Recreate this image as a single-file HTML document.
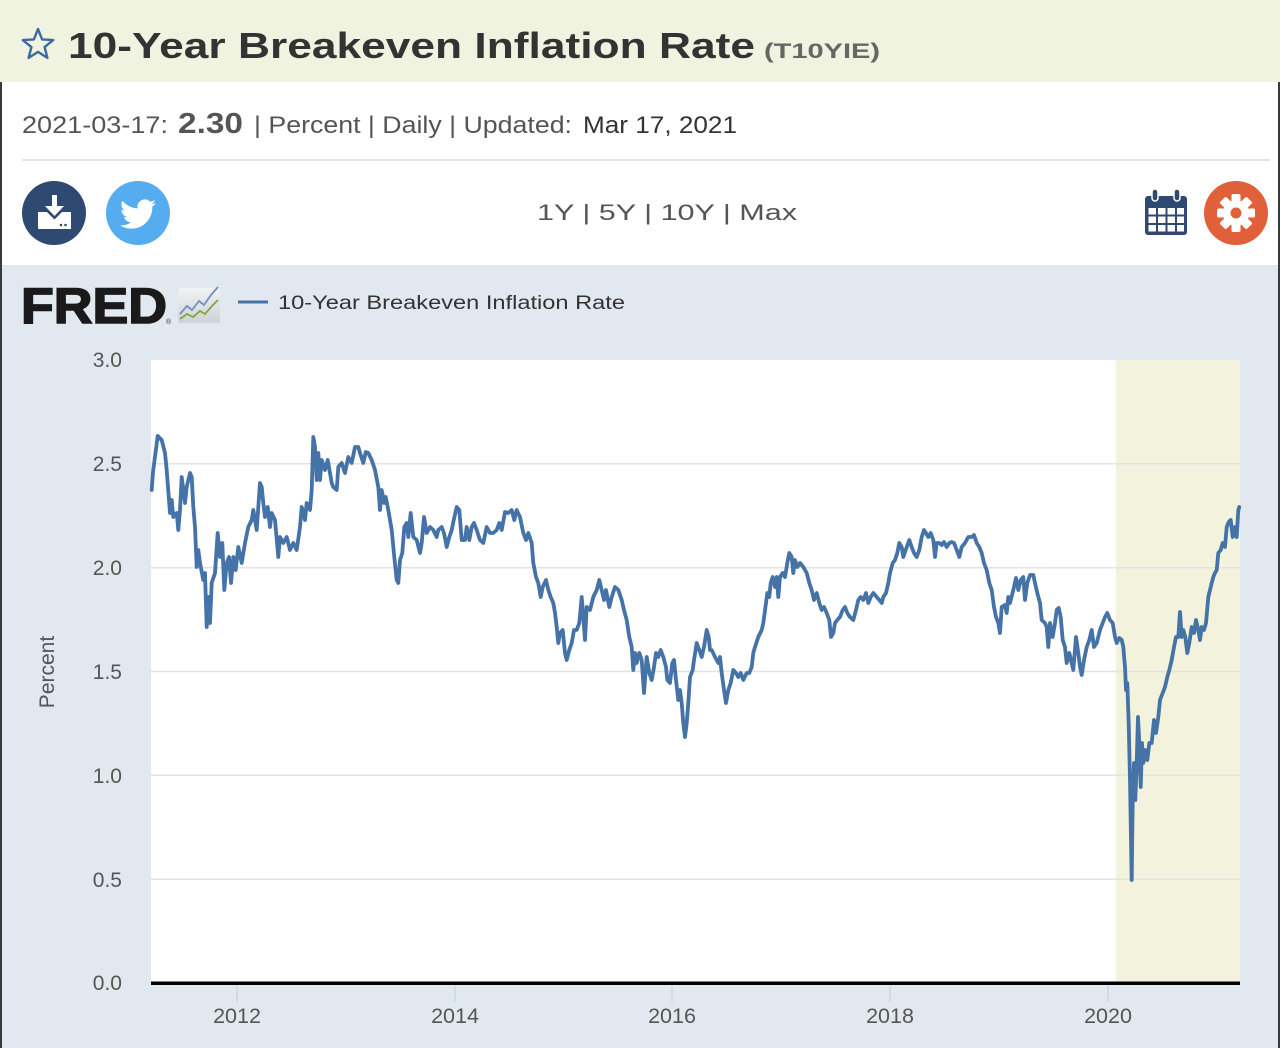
<!DOCTYPE html>
<html><head><meta charset="utf-8"><style>
html,body{margin:0;padding:0;background:#fff;}
svg{display:block;}
text{font-family:"Liberation Sans",sans-serif;}
</style></head><body>
<svg width="1280" height="1048" viewBox="0 0 1280 1048" xmlns="http://www.w3.org/2000/svg">
<!-- header band -->
<rect x="0" y="0" width="1280" height="82" fill="#f1f3e1"/>
<rect x="0" y="82" width="1280" height="183" fill="#ffffff"/>
<rect x="0" y="265" width="1280" height="783" fill="#e1e8f0"/>
<!-- borders -->
<rect x="0" y="82" width="2" height="966" fill="#3a3a3a"/>
<rect x="1278" y="82" width="2" height="966" fill="#3a3a3a"/>
<!-- star -->
<polygon points="38,29 42.1,39.4 53.2,40.1 44.6,47.1 47.4,57.9 38,51.9 28.6,57.9 31.4,47.1 22.8,40.1 33.9,39.4" fill="none" stroke="#3b6aa3" stroke-width="2.4" stroke-linejoin="round"/>
<text x="68" y="58" font-size="36" font-weight="bold" fill="#333" textLength="687" lengthAdjust="spacingAndGlyphs">10-Year Breakeven Inflation Rate</text>
<text x="764" y="58" font-size="21" font-weight="bold" fill="#666" textLength="116" lengthAdjust="spacingAndGlyphs">(T10YIE)</text>
<!-- value line -->
<text x="22" y="133" font-size="24" fill="#555" textLength="146" lengthAdjust="spacingAndGlyphs">2021-03-17:</text>
<text x="178" y="133" font-size="29" font-weight="bold" fill="#555" textLength="65" lengthAdjust="spacingAndGlyphs">2.30</text>
<text x="254" y="133" font-size="24" fill="#555" textLength="318" lengthAdjust="spacingAndGlyphs">| Percent | Daily | Updated:</text>
<text x="583" y="133" font-size="24" fill="#333" textLength="154" lengthAdjust="spacingAndGlyphs">Mar 17, 2021</text>
<rect x="22" y="159" width="1248" height="2" fill="#e1e6ee"/>
<!-- download icon -->
<circle cx="54" cy="213" r="32" fill="#2e4a72"/>
<rect x="52" y="195" width="5" height="14" fill="#fff"/>
<polygon points="45,206 64,206 54.5,216" fill="#fff"/>
<path d="M38,212 L47,212 L54.5,219.5 L62,212 L71,212 L71,229 L38,229 Z" fill="#fff"/>
<circle cx="61" cy="225" r="1.3" fill="#2e4a72"/>
<circle cx="65.5" cy="225" r="1.3" fill="#2e4a72"/>
<!-- twitter -->
<circle cx="138" cy="213" r="32" fill="#55acee"/>
<path transform="translate(120,196) scale(1.5)" fill="#fff" d="M23.954 4.569c-.885.389-1.830.654-2.825.775 1.014-.611 1.794-1.574 2.163-2.723-.951.555-2.005.959-3.127 1.184-.896-.959-2.173-1.559-3.591-1.559-2.717 0-4.920 2.203-4.920 4.917 0 .39.045.765.127 1.124C7.691 8.094 4.066 6.130 1.640 3.161c-.427.722-.666 1.561-.666 2.475 0 1.710.870 3.213 2.188 4.096-.807-.026-1.566-.248-2.228-.616v.061c0 2.385 1.693 4.374 3.946 4.827-.413.111-.849.171-1.296.171-.314 0-.615-.03-.916-.086.631 1.953 2.445 3.377 4.604 3.417-1.680 1.319-3.809 2.105-6.102 2.105-.39 0-.779-.023-1.170-.067 2.189 1.394 4.768 2.209 7.557 2.209 9.054 0 13.999-7.496 13.999-13.986 0-.209 0-.42-.015-.63.961-.689 1.800-1.560 2.460-2.548l-.047-.02z"/>
<!-- range -->
<text x="537" y="220" font-size="22" fill="#555" textLength="260" lengthAdjust="spacingAndGlyphs">1Y  |  5Y  |  10Y  |  Max</text>
<!-- calendar -->
<rect x="1145" y="196" width="42" height="39" rx="3" fill="#2e4a72"/>
<g fill="#fff">
<rect x="1148.5" y="208" width="7.5" height="6.5"/><rect x="1158" y="208" width="7.5" height="6.5"/><rect x="1167.5" y="208" width="7.5" height="6.5"/><rect x="1177" y="208" width="7" height="6.5"/>
<rect x="1148.5" y="216.5" width="7.5" height="6.5"/><rect x="1158" y="216.5" width="7.5" height="6.5"/><rect x="1167.5" y="216.5" width="7.5" height="6.5"/><rect x="1177" y="216.5" width="7" height="6.5"/>
<rect x="1148.5" y="225" width="7.5" height="6.5"/><rect x="1158" y="225" width="7.5" height="6.5"/><rect x="1167.5" y="225" width="7.5" height="6.5"/><rect x="1177" y="225" width="7" height="6.5"/>
</g>
<rect x="1152" y="189" width="6" height="12" rx="3" fill="#2e4a72" stroke="#fff" stroke-width="1.5"/>
<rect x="1174" y="189" width="6" height="12" rx="3" fill="#2e4a72" stroke="#fff" stroke-width="1.5"/>
<!-- gear -->
<circle cx="1236" cy="213" r="32" fill="#e0603a"/>
<g transform="translate(1236,213)" fill="#fff">
<circle r="13"/>
<rect x="-4.5" y="-19" width="9" height="10" rx="1.5"/>
<rect x="-4.5" y="-19" width="9" height="10" rx="1.5" transform="rotate(45)"/>
<rect x="-4.5" y="-19" width="9" height="10" rx="1.5" transform="rotate(90)"/>
<rect x="-4.5" y="-19" width="9" height="10" rx="1.5" transform="rotate(135)"/>
<rect x="-4.5" y="-19" width="9" height="10" rx="1.5" transform="rotate(180)"/>
<rect x="-4.5" y="-19" width="9" height="10" rx="1.5" transform="rotate(225)"/>
<rect x="-4.5" y="-19" width="9" height="10" rx="1.5" transform="rotate(270)"/>
<rect x="-4.5" y="-19" width="9" height="10" rx="1.5" transform="rotate(315)"/>
<circle r="5.5" fill="#e0603a"/>
</g>
<!-- FRED logo -->
<text x="21" y="323" font-size="50" font-weight="bold" fill="#1a1a1a" stroke="#1a1a1a" stroke-width="1.6" textLength="146" lengthAdjust="spacingAndGlyphs">FRED</text>
<text x="166" y="324" font-size="7" fill="#333">®</text>
<defs><linearGradient id="ig" x1="0" y1="0" x2="0" y2="1"><stop offset="0" stop-color="#f2f2f2"/><stop offset="1" stop-color="#cfd2d6"/></linearGradient></defs>
<rect x="178" y="288" width="42" height="35" rx="2" fill="url(#ig)"/>
<polyline points="180,314 187,306 192,310 199,301 204,305 211,295 218,287" fill="none" stroke="#6f93c0" stroke-width="1.8"/>
<polyline points="180,319 187,314 193,317 200,311 205,314 212,306 218,300" fill="none" stroke="#79a843" stroke-width="1.8"/>
<rect x="238" y="300.5" width="30" height="3" fill="#4572a7"/>
<text x="278" y="309" font-size="19" fill="#333" textLength="347" lengthAdjust="spacingAndGlyphs">10-Year Breakeven Inflation Rate</text>
<!-- plot -->
<rect x="151" y="360" width="1089" height="624" fill="#fff"/>
<rect x="1116" y="360" width="124" height="624" fill="#f2f2dd"/>
<g stroke="#e2e2e2" stroke-width="1.5">
<line x1="151" y1="463.8" x2="1240" y2="463.8"/>
<line x1="151" y1="567.7" x2="1240" y2="567.7"/>
<line x1="151" y1="671.5" x2="1240" y2="671.5"/>
<line x1="151" y1="775.3" x2="1240" y2="775.3"/>
<line x1="151" y1="879.2" x2="1240" y2="879.2"/>
</g>
<g stroke="#c4ccd8" stroke-width="1">
<line x1="237" y1="985" x2="237" y2="1002"/>
<line x1="455" y1="985" x2="455" y2="1002"/>
<line x1="672" y1="985" x2="672" y2="1002"/>
<line x1="890" y1="985" x2="890" y2="1002"/>
<line x1="1108" y1="985" x2="1108" y2="1002"/>
</g>
<rect x="151" y="981.5" width="1089" height="3.5" fill="#000"/>
<!-- y labels -->
<g font-size="21" fill="#555" text-anchor="end">
<text x="122" y="367">3.0</text>
<text x="122" y="471">2.5</text>
<text x="122" y="575">2.0</text>
<text x="122" y="679">1.5</text>
<text x="122" y="783">1.0</text>
<text x="122" y="887">0.5</text>
<text x="122" y="990">0.0</text>
</g>
<text transform="translate(54,672) rotate(-90)" font-size="21" fill="#555" text-anchor="middle">Percent</text>
<g font-size="21.5" fill="#555" text-anchor="middle">
<text x="237" y="1023">2012</text>
<text x="455" y="1023">2014</text>
<text x="672" y="1023">2016</text>
<text x="890" y="1023">2018</text>
<text x="1108" y="1023">2020</text>
</g>
<!-- series -->
<polyline fill="none" stroke="#4572a7" stroke-width="3.8" stroke-linejoin="round" stroke-linecap="round" points="
151.7,490 153,472 157.7,436 161.7,440 165,453 166.7,470 170,513 171.7,500 173.3,517 176.7,513 178.3,530 180,510 181.7,477 185,503 186.7,487 190,473 191.7,477 193.3,507 195,527 196.7,567 198.3,550 200,563 203.3,580 205,573 206.7,627 208.3,597 210,623 211.7,583 215,573 217.7,533 220,557 222.3,543 224.3,590 226.7,563 229,557 231,583 233.3,557 235.7,570 238.3,547 241.7,563 245,543 248.3,527 251.7,520 253.3,510 256.7,530 260,483 261.7,487 263.3,503 265,517 267.7,507 270,527 271.7,513 275,520 278.3,557 280,537 283.3,543 286.7,537 290,550 293.3,543 296.7,550 300,527 301.7,507 305,520 306.7,503 310,510 311.7,490 313.3,437 315,447 316.7,480 318.3,453 320,480 321.7,460 325,470 327.7,460 330,473 331.7,483 333.3,487 336.7,490 338.3,467 341.7,463 345,473 348.3,457 351.7,463 355,447 358.3,447 360,453 363.3,463 365.7,452 368.3,453 371.7,460 375,470 378.3,487 380,510 381.7,490 384.3,503 385.7,497 388.3,510 391.7,530 394.3,557 396.7,580 398.3,583 400,560 402.3,553 404.3,527 406.7,523 408.3,537 410.7,513 413.3,537 416.7,540 420,553
421.7,543 424,517 426.7,533 430,527 433.3,530 436.7,537 438.3,530 441.7,527 444,533 446.7,547 449.3,537 451.7,530 453.3,522 456.7,507 459.3,510 461.7,540 465,540 466.7,527 469.3,540 471.7,527 474,523 476.7,530 480,540 483.3,543 486.7,527 490,533 493.3,533 496.7,530 499.3,523 501.7,530 505,512 508.3,513 511.7,510 514.3,520 516.7,510 520,517 523.3,533 526,540 528.3,533 531.7,543 533.3,563 536,577 538.3,583 540.7,597 542.7,587 546,580 548.3,590 550.7,597 553.3,603 555,613 556.7,627 558.3,643 560,633 562.7,630 565,653 566.7,660 569.3,650 571.7,643 574,630 576.7,630 579.3,623 581.7,597 583.3,617 585,640 586.7,607 590,610 593.3,597 596.7,590 599.3,580 601.7,590 604,600 606,590 609.3,607 611.7,597 615,587 618.3,590 621.7,600 624,610 626.7,620 629.3,637 631.7,647 633.3,670 635,653 636.7,663 639.3,653 641.7,660 644,693 646.7,657 649.3,673 651.7,680 654,667 656,653 658.3,657 660.7,650 663.3,657 666,667 667.3,680 670,683 672.3,663 674,660 676,680 678.3,700 680,690 681.7,703 683.3,723 685,737 686.7,723 688.3,703 690,677 692.7,670 694,660 696.7,643 699.3,650 701.7,657 704,647 706.7,630 708.7,637 710,650
711.7,650 715,657 718.3,663 720,657 721.7,673 724,690 726,703 728.3,690 730.7,683 733.3,670 736,673 738.3,677 740.7,673 743.3,680 746.7,673 749.3,673 751.7,667 753.3,653 755,647 758.3,637 761.7,630 763.3,623 766,603 767.3,593 769.3,597 770.7,583 772.7,577 775,587 776.7,577 778.3,597 780,577 782.7,573 785,577 787.3,563 789.3,553 791.7,557 793.3,573 795,560 797.3,567 800,563 803.3,567 806.7,573 809.3,583 811.7,590 814,600 816.7,593 819.3,603 821.7,610 824,607 826.7,613 829.3,620 831,637 833.3,633 835,623 837.3,620 840,617 842.7,610 845,607 847.3,613 850,617 853.3,620 856,610 858.3,600 860.7,597 863.3,600 866,593 868.3,603 870.7,597 873.3,593 876.7,597 879.3,600 881.7,603 883.3,597 886,593 888.3,583 890,573 892.7,563 895,560 897.3,553 899.3,543 901.7,547 903.3,557 906.7,547 909.3,540 911.7,547 914,553 916.7,557 919.3,550 921.7,537 924,530 926,533 928.3,537 930.7,533 933.3,540 935,557 936.7,543 939.3,543 941.7,545 944,542 946.7,547 949.3,543 951.7,542 954,543 956.7,550 959.3,557 961.7,547 965,543 968.3,537 971.7,537 974,535 976.7,543 979.3,547 981.7,553 984,563 986.7,570 989.3,583 991.7,590 994,607 996,617 998.3,623 1000,633
1001.7,607 1005,605 1006.7,613 1008.3,597 1010,603 1013.3,590 1016,578 1018.3,590 1020.7,580 1023.3,577 1025,600 1027.3,583 1030,575 1033.3,575 1035,583 1037.3,593 1040,603 1041.7,620 1045,623 1046.7,627 1048.3,647 1050,623 1052.7,637 1055,623 1056.7,610 1058.7,608 1060.7,617 1062.7,640 1065,647 1066.7,663 1069.3,653 1071.7,663 1073.3,670 1076,637 1078.3,653 1080,667 1081.7,675 1084,660 1086.7,647 1089.3,640 1091.7,630 1094,647 1096.7,643 1100,630 1102.7,623 1105,617 1107.3,613 1110,620 1112.7,623 1115,637 1116.7,643 1119.3,638 1121.7,640 1123.3,647 1125,667 1126,690 1127.3,683 1128.7,723 1130,780 1131.7,880 1132.7,800 1134,763 1135.3,800 1136.7,763 1138,717 1139.3,743 1140.7,787 1142,743 1143.3,763 1145.3,750 1147.3,760 1149.3,743 1151.7,743 1154,720 1156,733 1158.3,717 1160,700 1162.7,693 1165,687 1167.3,677 1169.3,670 1171.7,660 1174,647 1176,637 1178.3,637 1180,612 1181.7,637 1183.3,630 1185.3,637 1187.3,653 1189.3,643 1191.7,627 1194,633 1196,620 1198.3,630 1200,640 1201.7,627 1204,630 1206,623 1208.3,597 1210,590 1211.7,583 1213.3,577 1215,573 1216.7,570 1218.3,553 1220.7,550 1222.7,543 1225,547 1226.7,527 1228.7,522 1230.7,520 1232.7,537 1235,527 1236.7,537 1238.3,510 1239.3,507"/>
</svg>
</body></html>
